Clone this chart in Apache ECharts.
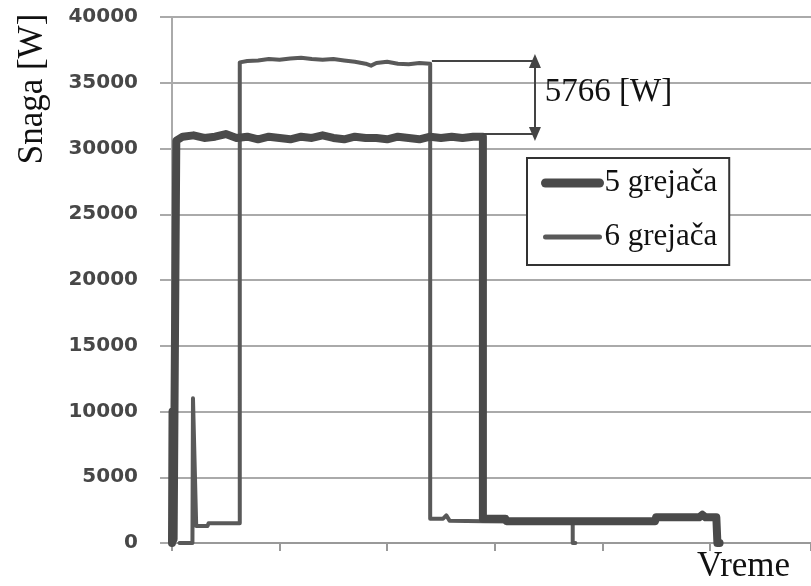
<!DOCTYPE html>
<html>
<head>
<meta charset="utf-8">
<script src="https://cdn.jsdelivr.net/npm/echarts@6/dist/echarts.min.js"></script>
<style>
html,body{margin:0;padding:0;background:#fff;}
#chart{width:811px;height:586px;}
</style>
</head>
<body>
<div id="chart"></div>
<script>
// Power [W] over time (time in arbitrary units, 100 per x tick)
const seriesNames = ['5 grejača', '6 grejača'];
const heaters5 = [
  [0,0],[0.5,10000],[1.5,300],[3,300],[4,30600],[10,30900],[20,31000],[30,30800],[40,30900],
  [50,31100],[60,30800],[70,30900],[80,30700],[90,30900],[100,30800],[110,30700],[120,30900],
  [130,30800],[140,31000],[150,30800],[160,30700],[170,30900],[180,30800],[190,30800],[200,30700],
  [210,30900],[220,30800],[230,30700],[240,30900],[250,30800],[260,30900],[270,30800],[280,30900],
  [289,30900],[289,1850],[310,1850],[311,1650],[449,1650],[450,1950],[490,1950],[493,2150],[496,1950],
  [506,1950],[507,0],[509,0]
];
const heaters6 = [
  [7,0],[19,0],[19.5,11000],[22.5,1300],[33,1300],[34,1500],[63,1500],[63,36550],[70,36650],
  [80,36700],[90,36800],[100,36750],[110,36850],[120,36900],[130,36800],[140,36750],[150,36800],
  [160,36700],[170,36600],[180,36450],[185,36300],[190,36500],[200,36600],[210,36450],[220,36400],
  [230,36500],[240,36450],[240,1850],[252,1850],[255,2100],[258,1700],[290,1650],[372.5,1600],
  [372.5,0],[375,0]
];
const yTicks = [0,5000,10000,15000,20000,25000,30000,35000,40000];
const annotTop = 36650, annotBottom = 31100;
const annotTopStart = 241.6, annotBottomStart = 289, annotEnd = 339, annotArrowX = 337.4;
const annotLabel = '5766 [W]';
const annotLabelPos = [341, 34300];
const xName = 'Vreme';
const yName = 'Snaga [W]';

const chart = echarts.init(document.getElementById('chart'));
const serif = 'Liberation Serif';
chart.setOption({
  animation: false,
  backgroundColor: '#fff',
  grid: { left: 172, top: 17, right: 0, bottom: 43 },
  legend: {
    left: 527, top: 158,
    orient: 'vertical',
    data: [
      { name: seriesNames[0], lineStyle: { width: 9, cap: 'round' }, itemStyle: { opacity: 0 } },
      { name: seriesNames[1], lineStyle: { width: 5, cap: 'round' }, itemStyle: { opacity: 0 } }
    ],
    itemWidth: 54, itemHeight: 16, itemGap: 20,
    padding: [8, 12, 11, 14],
    borderColor: '#333', borderWidth: 2, backgroundColor: '#fff',
    textStyle: { fontFamily: serif, fontSize: 31, color: '#111', lineHeight: 34 }
  },
  xAxis: {
    type: 'value', min: 0, max: 594, interval: 100,
    axisLine: { show: true, lineStyle: { color: '#999', width: 2 } },
    axisTick: { show: true, length: 8, lineStyle: { color: '#999', width: 2 } },
    axisLabel: { show: false },
    splitLine: { show: false }
  },
  yAxis: {
    type: 'value', min: yTicks[0], max: yTicks[yTicks.length-1], interval: yTicks[1]-yTicks[0],
    axisLine: { show: true, lineStyle: { color: '#aaa', width: 2 } },
    axisTick: { show: true, length: 12, lineStyle: { color: '#aaa', width: 2 } },
    axisLabel: { margin: 34, fontFamily: 'DejaVu Sans', fontWeight: 'bold', fontSize: 20, color: '#474747',
                 formatter: function (v) { return String(v); } },
    splitLine: { show: true, lineStyle: { color: '#aaa', width: 2 } }
  },
  graphic: [
    { type: 'text', left: 697, top: 549, style: { text: xName, font: '35px ' + serif, fill: '#111' } },
    { type: 'text', x: 33, y: 89, rotation: Math.PI/2,
      style: { text: yName, font: '35px ' + serif, fill: '#111', align: 'center', verticalAlign: 'middle' } }
  ],
  series: [
    {
      name: seriesNames[1], type: 'line', data: heaters6, showSymbol: false, symbol: 'none',
      lineStyle: { color: '#595959', width: 4, cap: 'round', join: 'round' },
      itemStyle: { color: '#595959' },
      z: 2,
      markLine: {
        silent: true, symbol: 'none',
        lineStyle: { color: '#444', width: 2, type: 'solid' },
        label: { show: false },
        data: [
          [{ coord: [annotTopStart, annotTop] }, { coord: [annotEnd, annotTop] }],
          [{ coord: [annotBottomStart, annotBottom] }, { coord: [annotEnd, annotBottom] }],
          [{ coord: [annotArrowX, annotTop], symbol: 'triangle', symbolSize: [12, 14] },
           { coord: [annotArrowX, annotBottom], symbol: 'triangle', symbolSize: [12, 14] }]
        ]
      },
      markPoint: {
        silent: true, symbol: 'circle', symbolSize: 0,
        label: { show: true, position: 'right', distance: 6, formatter: annotLabel,
                 fontFamily: serif, fontSize: 33, color: '#111' },
        data: [{ coord: annotLabelPos }]
      }
    },
    {
      name: seriesNames[0], type: 'line', data: heaters5, showSymbol: false, symbol: 'none',
      lineStyle: { color: '#4a4a4a', width: 8, cap: 'round', join: 'round' },
      itemStyle: { color: '#4a4a4a' },
      z: 3
    }
  ]
});
</script>
</body>
</html>
